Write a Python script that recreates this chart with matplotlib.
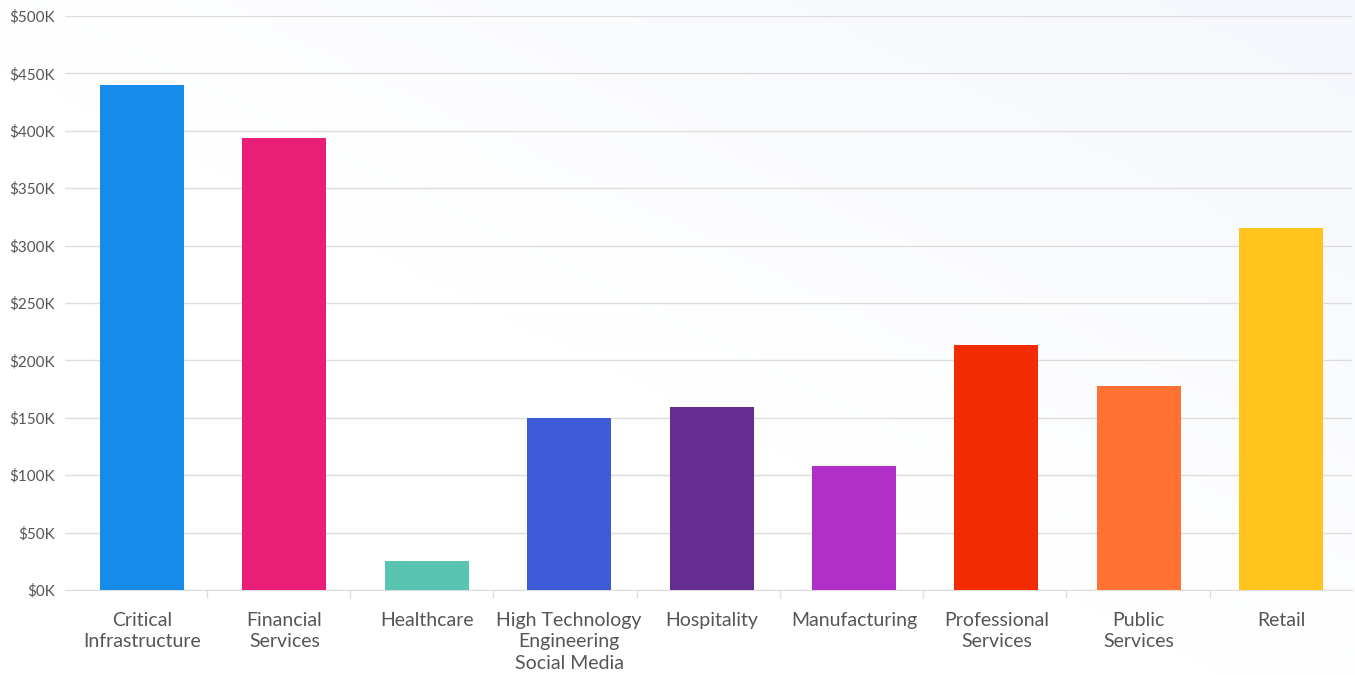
import numpy as np
import matplotlib.pyplot as plt
from matplotlib.ticker import FuncFormatter, MultipleLocator, FixedLocator

plt.rcParams['font.family'] = ['Lato', 'DejaVu Sans']

categories = ["Critical\nInfrastructure", "Financial\nServices", "Healthcare",
              "High Technology\nEngineering\nSocial Media", "Hospitality", "Manufacturing",
              "Professional\nServices", "Public\nServices", "Retail"]
values = [440, 394, 25, 150, 159, 108, 213, 178, 315]  # thousands of dollars
colors = ["#168BEB", "#E91E77", "#5AC4B2", "#3F5AD6", "#652D91",
          "#B12FC9", "#F22B00", "#FF7231", "#FFC31E"]

fig = plt.figure(figsize=(13.55, 6.75), dpi=100)

# soft background gradient (white -> faint blue toward top right)
bg = fig.add_axes([0, 0, 1, 1], zorder=-10)
gx, gy = np.meshgrid(np.linspace(0, 1, 200), np.linspace(0, 1, 100))
grad = np.clip((gx + gy - 0.9) / 1.1, 0, 1)
bg.imshow(grad, cmap=plt.matplotlib.colors.LinearSegmentedColormap.from_list(
    "bgc", ["#FFFFFF", "#F5F7FC"]), aspect='auto', origin='lower', extent=[0, 1, 0, 1])
bg.axis('off')

ax = fig.add_axes([65 / 1355, 85 / 675, 1287 / 1355, 574 / 675])
ax.patch.set_alpha(0)

x = np.arange(len(categories))
ax.bar(x, values, width=0.59, color=colors, zorder=3)

ax.set_xlim(-0.541, 8.498)
ax.set_ylim(0, 500)
ax.yaxis.set_major_locator(MultipleLocator(50))
ax.yaxis.set_major_formatter(FuncFormatter(lambda v, p: f"${int(v)}K"))
ax.grid(axis='y', color='#DDDDDD', linewidth=1, zorder=0)

ax.set_xticks(x)
ax.set_xticklabels(categories, fontsize=14, color='#555555', linespacing=1.3)
ax.tick_params(axis='x', length=0, pad=16)
ax.xaxis.set_minor_locator(FixedLocator(np.arange(len(categories) - 1) * 1.006 + 0.456))
ax.tick_params(axis='x', which='minor', length=6, color='#DDDDDD', width=1)
ax.tick_params(axis='y', length=0, pad=7, labelsize=11, labelcolor='#555555')

for s in ['top', 'right', 'left']:
    ax.spines[s].set_visible(False)
ax.spines['bottom'].set_color('#DDDDDD')

plt.savefig("out.png", dpi=100)
